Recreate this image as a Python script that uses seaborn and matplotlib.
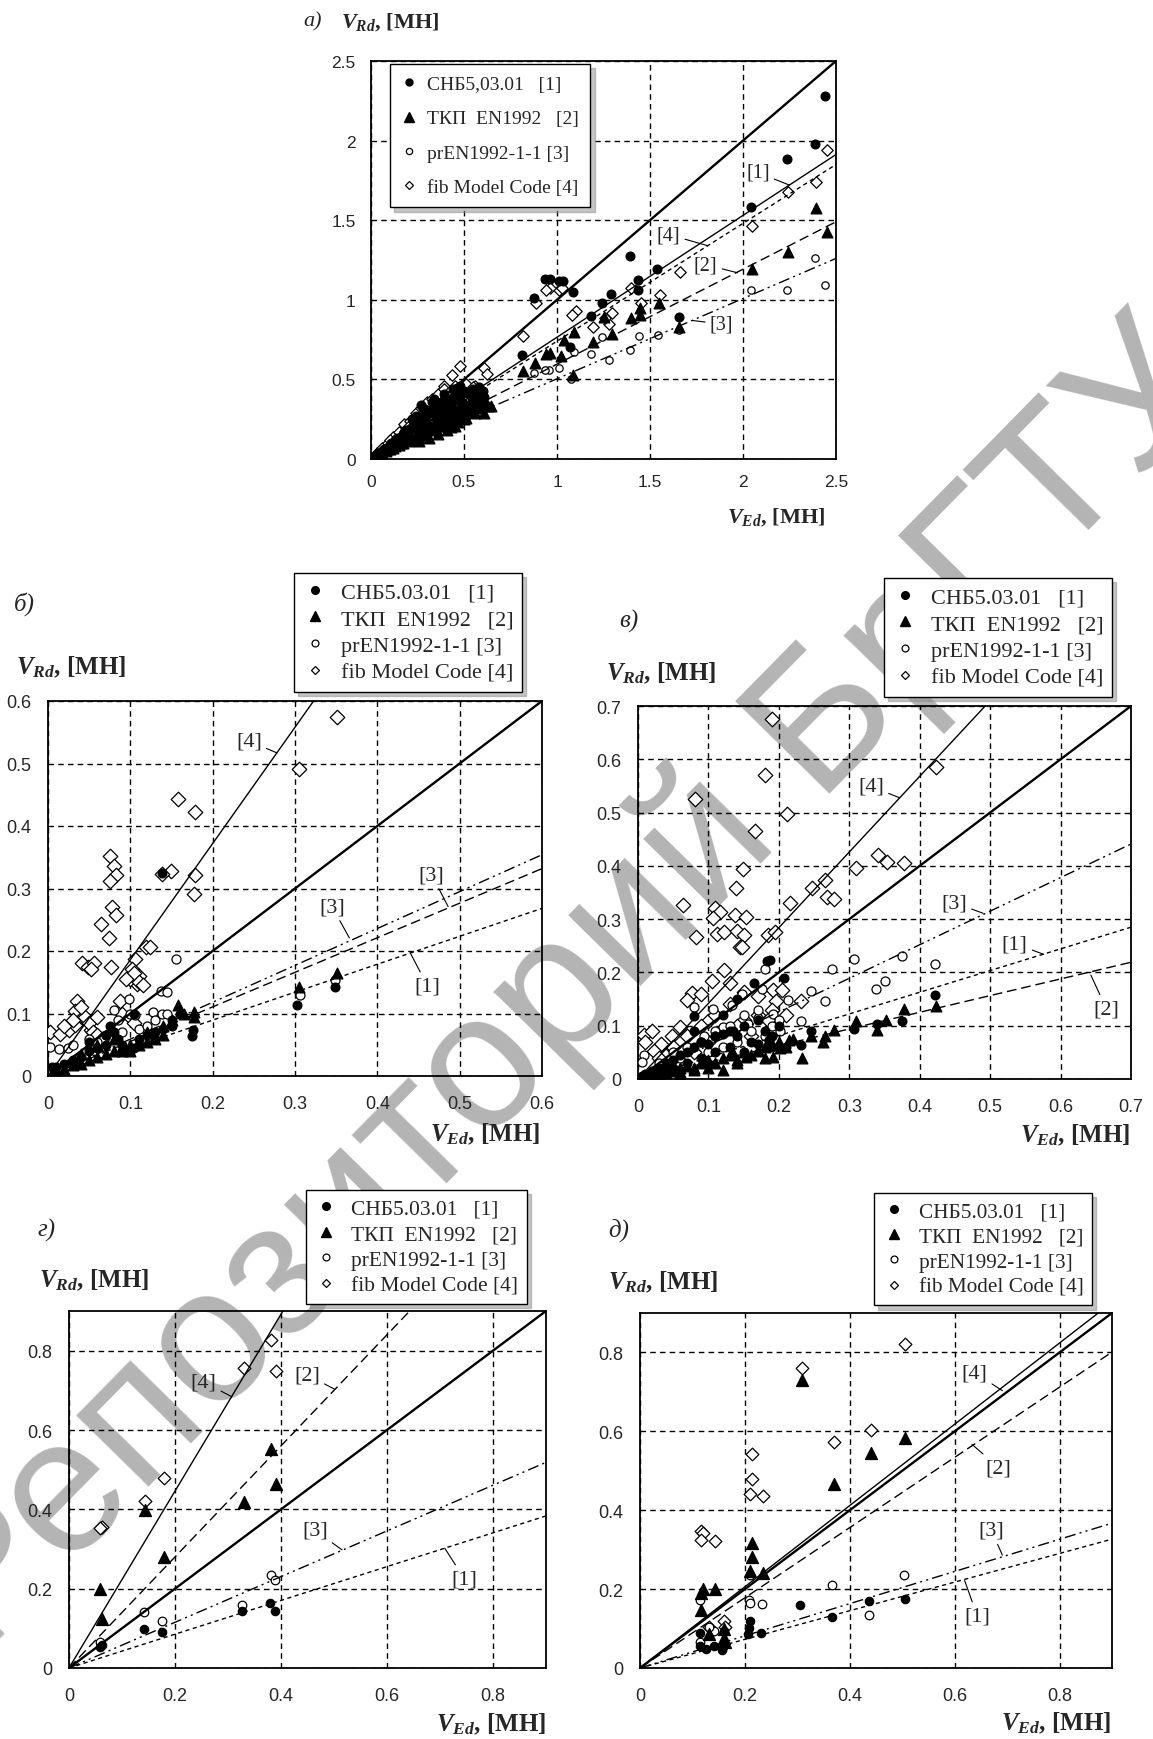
import numpy as np
import matplotlib
matplotlib.use("Agg")
import matplotlib.pyplot as plt
from matplotlib.lines import Line2D
import seaborn as sns

# ---------------- data ----------------
legend_labels = ["СНБ5.03.01   [1]", "ТКП  EN1992   [2]", "prEN1992-1-1 [3]", "fib Model Code [4]"]
legend_labels_a = ["СНБ5,03.01   [1]", "ТКП  EN1992   [2]", "prEN1992-1-1 [3]", "fib Model Code [4]"]

# panel а)
a_snb_x = [2.442, 2.385, 2.235, 2.042, 1.394, 1.538, 1.438, 1.438, 1.288, 1.240, 1.183, 1.654, 1.088, 0.933,
           0.962, 1.013, 1.033, 0.879, 0.813, 1.071, 0.46,
           0.02, 0.04, 0.06, 0.08, 0.10, 0.12, 0.14, 0.16, 0.18, 0.20, 0.22, 0.24, 0.26, 0.28, 0.30, 0.32,
           0.34, 0.36, 0.38, 0.40, 0.42, 0.44, 0.46, 0.48, 0.50, 0.52, 0.55, 0.58, 0.60, 0.15, 0.20, 0.25,
           0.30, 0.35, 0.40, 0.45, 0.50, 0.27, 0.33, 0.38,
           0.03, 0.07, 0.11, 0.13, 0.17, 0.19, 0.21, 0.23, 0.25, 0.29, 0.31, 0.33, 0.37, 0.41, 0.43, 0.47,
           0.49, 0.53, 0.56, 0.61, 0.24, 0.28, 0.22, 0.36, 0.42, 0.52, 0.55, 0.60, 0.26, 0.32, 0.44, 0.34,
           0.39, 0.44, 0.48]
a_snb_y = [2.281, 1.979, 1.887, 1.585, 1.272, 1.191, 1.123, 1.060, 1.038, 0.983, 0.900, 0.894, 1.047, 1.128,
           1.132, 1.117, 1.117, 1.011, 0.653, 0.702, 0.447,
           0.02, 0.04, 0.05, 0.07, 0.09, 0.10, 0.13, 0.14, 0.17, 0.18, 0.20, 0.22, 0.25, 0.27, 0.28, 0.30,
           0.31, 0.33, 0.34, 0.36, 0.37, 0.39, 0.40, 0.41, 0.43, 0.42, 0.44, 0.45, 0.43, 0.11, 0.15, 0.19,
           0.22, 0.26, 0.28, 0.31, 0.33, 0.34, 0.36, 0.29,
           0.03, 0.06, 0.10, 0.12, 0.16, 0.18, 0.19, 0.21, 0.24, 0.26, 0.29, 0.31, 0.35, 0.38, 0.35, 0.38,
           0.36, 0.40, 0.38, 0.39, 0.27, 0.32, 0.25, 0.28, 0.30, 0.34, 0.36, 0.34, 0.16, 0.20, 0.26, 0.38,
           0.41, 0.44, 0.46]
a_tkp_x = [2.452, 2.394, 2.24, 2.048, 1.548, 1.448, 1.448, 1.40, 1.25, 1.298, 1.092, 1.196, 1.035, 0.942,
           0.965, 1.023, 0.881, 0.817, 1.087, 1.654, 0.644,
           0.03, 0.05, 0.08, 0.10, 0.12, 0.15, 0.17, 0.20, 0.22, 0.25, 0.27, 0.30, 0.32, 0.35, 0.37, 0.40,
           0.42, 0.45, 0.47, 0.50, 0.52, 0.55, 0.58, 0.60, 0.63, 0.20, 0.25, 0.30, 0.35, 0.40, 0.45, 0.50,
           0.12, 0.18, 0.28, 0.38, 0.48,
           0.06, 0.09, 0.13, 0.16, 0.19, 0.23, 0.26, 0.29, 0.33, 0.36, 0.39, 0.43, 0.46, 0.49, 0.53, 0.56,
           0.59, 0.62, 0.61, 0.57, 0.54, 0.41, 0.36, 0.31, 0.26, 0.43, 0.47, 0.51, 0.44, 0.39]
a_tkp_y = [1.426, 1.579, 1.298, 1.191, 0.979, 0.947, 0.904, 0.883, 0.894, 0.787, 0.798, 0.734, 0.749, 0.660,
           0.664, 0.649, 0.606, 0.553, 0.528, 0.830, 0.330,
           0.02, 0.03, 0.05, 0.06, 0.07, 0.09, 0.10, 0.11, 0.12, 0.14, 0.15, 0.16, 0.18, 0.19, 0.21, 0.22,
           0.24, 0.21, 0.26, 0.28, 0.30, 0.33, 0.36, 0.38, 0.33, 0.14, 0.18, 0.20, 0.24, 0.27, 0.29, 0.25,
           0.09, 0.13, 0.22, 0.30, 0.34,
           0.04, 0.06, 0.08, 0.10, 0.12, 0.13, 0.15, 0.17, 0.19, 0.21, 0.23, 0.25, 0.27, 0.30, 0.31, 0.29,
           0.32, 0.35, 0.29, 0.40, 0.37, 0.18, 0.16, 0.13, 0.11, 0.20, 0.23, 0.26, 0.32, 0.29]
a_pr_x = [2.442, 2.385, 2.235, 2.042, 1.544, 1.442, 1.394, 1.279, 1.24, 1.183, 1.092, 1.013, 0.956, 0.933,
          0.879, 1.077, 1.654,
          0.05, 0.10, 0.15, 0.20, 0.25, 0.30, 0.35, 0.40, 0.45, 0.50, 0.55, 0.60, 0.18, 0.28, 0.38, 0.48, 0.58]
a_pr_y = [1.096, 1.26, 1.064, 1.06, 0.781, 0.77, 0.687, 0.621, 0.766, 0.66, 0.67, 0.574, 0.56, 0.557,
          0.543, 0.5, 0.809,
          0.04, 0.08, 0.11, 0.14, 0.17, 0.20, 0.23, 0.26, 0.28, 0.31, 0.34, 0.37, 0.12, 0.18, 0.24, 0.29, 0.32]
a_fib_x = [2.452, 2.394, 2.244, 2.048, 1.663, 1.554, 1.452, 1.40, 1.298, 1.279, 1.196, 1.26, 1.102, 1.081,
           1.013, 1.029, 0.962, 0.942, 0.885, 0.817, 0.606, 0.625, 0.481, 0.433, 0.394, 0.558,
           0.03, 0.06, 0.09, 0.12, 0.15, 0.18, 0.21, 0.24, 0.27, 0.30, 0.33, 0.36, 0.39, 0.42, 0.45, 0.48,
           0.51, 0.55, 0.10, 0.20, 0.30, 0.40, 0.50]
a_fib_y = [1.94, 1.74, 1.677, 1.464, 1.174, 1.032, 0.983, 1.074, 0.919, 0.847, 0.83, 0.883, 0.932, 0.904,
           1.064, 1.074, 1.074, 1.06, 0.983, 0.77, 0.574, 0.532, 0.585, 0.528, 0.457, 0.457,
           0.04, 0.07, 0.10, 0.14, 0.17, 0.22, 0.24, 0.29, 0.32, 0.36, 0.38, 0.41, 0.44, 0.42, 0.46, 0.44,
           0.47, 0.45, 0.12, 0.20, 0.30, 0.35, 0.40]
a_slopes = [1.0, 0.765, 0.74, 0.596, 0.504]

# panel б)
b_snb_x = [0.302, 0.349, 0.175, 0.176, 0.139,
           0.005, 0.01, 0.02, 0.03, 0.04, 0.05, 0.06, 0.07, 0.075, 0.08, 0.085, 0.09, 0.10, 0.105, 0.11,
           0.12, 0.13, 0.14, 0.15, 0.16, 0.07, 0.09, 0.11, 0.13, 0.15, 0.03, 0.05, 0.105]
b_snb_y = [0.114, 0.142, 0.064, 0.073, 0.325,
           0.015, 0.015, 0.02, 0.025, 0.03, 0.04, 0.045, 0.05, 0.08, 0.07, 0.06, 0.05, 0.04, 0.045, 0.06,
           0.065, 0.07, 0.075, 0.08, 0.10, 0.065, 0.04, 0.05, 0.06, 0.09, 0.02, 0.055, 0.10]
b_tkp_x = [0.305, 0.351, 0.158, 0.177, 0.177,
           0.01, 0.02, 0.03, 0.04, 0.05, 0.06, 0.07, 0.08, 0.09, 0.10, 0.11, 0.12, 0.13, 0.14, 0.15, 0.165,
           0.04, 0.06, 0.08, 0.10, 0.12, 0.14]
b_tkp_y = [0.142, 0.165, 0.114, 0.102, 0.094,
           0.01, 0.012, 0.018, 0.02, 0.025, 0.03, 0.035, 0.04, 0.04, 0.04, 0.05, 0.055, 0.06, 0.065, 0.09, 0.10,
           0.035, 0.05, 0.06, 0.05, 0.07, 0.08]
b_pr_x = [0.306, 0.349, 0.156, 0.137, 0.145, 0.080, 0.002, 0.013, 0.024, 0.128, 0.098, 0.106, 0.139,
          0.03, 0.05, 0.07, 0.09, 0.11, 0.13, 0.145, 0.10, 0.12, 0.06, 0.085]
b_pr_y = [0.130, 0.153, 0.188, 0.136, 0.135, 0.105, 0.046, 0.043, 0.045, 0.102, 0.123, 0.097, 0.100,
          0.05, 0.06, 0.065, 0.07, 0.075, 0.09, 0.10, 0.10, 0.08, 0.055, 0.09]
b_fib_x = [0.351, 0.305, 0.158, 0.179, 0.178, 0.177, 0.149, 0.139, 0.075, 0.080, 0.082, 0.075, 0.078, 0.082,
           0.064, 0.074, 0.077, 0.041, 0.048, 0.056, 0.052, 0.119, 0.124, 0.106, 0.102, 0.104, 0.108, 0.087,
           0.035, 0.033, 0.043, 0.002, 0.015, 0.026, 0.033, 0.052,
           0.045, 0.05, 0.055, 0.06, 0.04, 0.09, 0.10, 0.105, 0.03, 0.02, 0.11, 0.10, 0.105, 0.11, 0.115,
           0.095, 0.06, 0.065]
b_fib_y = [0.575, 0.492, 0.443, 0.422, 0.322, 0.292, 0.328, 0.323, 0.352, 0.336, 0.322, 0.312, 0.271, 0.257,
           0.243, 0.221, 0.175, 0.181, 0.174, 0.181, 0.172, 0.206, 0.206, 0.188, 0.171, 0.153, 0.147, 0.120,
           0.120, 0.104, 0.094, 0.070, 0.067, 0.073, 0.082, 0.073,
           0.095, 0.085, 0.07, 0.065, 0.11, 0.10, 0.095, 0.085, 0.09, 0.08, 0.16, 0.155, 0.165, 0.15, 0.145,
           0.155, 0.095, 0.06]
b_slopes = [1.0, 1.86, 0.59, 0.553, 0.447]

# panel в)
c_snb_x = [0.183, 0.188, 0.208, 0.422, 0.375, 0.307, 0.339, 0.232, 0.245, 0.165, 0.079, 0.110, 0.135, 0.186,
           0.005, 0.01, 0.02, 0.03, 0.04, 0.05, 0.06, 0.07, 0.08, 0.09, 0.10, 0.11, 0.12, 0.13, 0.14, 0.15,
           0.16, 0.17, 0.18, 0.19, 0.20, 0.21, 0.05, 0.07, 0.09, 0.11, 0.13, 0.15, 0.17, 0.19, 0.12, 0.14, 0.08]
c_snb_y = [0.222, 0.224, 0.189, 0.158, 0.109, 0.094, 0.104, 0.063, 0.090, 0.181, 0.118, 0.080, 0.090, 0.073,
           0.005, 0.01, 0.015, 0.02, 0.03, 0.035, 0.045, 0.05, 0.06, 0.07, 0.065, 0.08, 0.085, 0.09, 0.08, 0.10,
           0.07, 0.11, 0.09, 0.08, 0.10, 0.06, 0.02, 0.03, 0.04, 0.05, 0.06, 0.05, 0.065, 0.06, 0.12, 0.15, 0.09]
c_tkp_x = [0.423, 0.377, 0.352, 0.339, 0.309, 0.279, 0.265, 0.263, 0.246, 0.233, 0.214, 0.201, 0.191, 0.171,
           0.153, 0.135, 0.120, 0.099, 0.079, 0.059,
           0.01, 0.02, 0.03, 0.04, 0.05, 0.06, 0.07, 0.08, 0.09, 0.10, 0.11, 0.12, 0.13, 0.14, 0.15, 0.16,
           0.17, 0.18, 0.19, 0.20, 0.21, 0.22, 0.06, 0.10, 0.14, 0.18, 0.04]
c_tkp_y = [0.137, 0.132, 0.111, 0.092, 0.108, 0.092, 0.080, 0.069, 0.080, 0.040, 0.073, 0.059, 0.042, 0.052,
           0.042, 0.049, 0.017, 0.031, 0.017, 0.014,
           0.005, 0.008, 0.01, 0.012, 0.015, 0.02, 0.025, 0.02, 0.03, 0.035, 0.03, 0.04, 0.045, 0.035, 0.05,
           0.045, 0.055, 0.06, 0.065, 0.07, 0.06, 0.075, 0.01, 0.02, 0.03, 0.04, 0.02]
c_pr_x = [0.375, 0.422, 0.307, 0.276, 0.338, 0.350, 0.266, 0.245, 0.231, 0.213, 0.180, 0.176, 0.191, 0.201,
          0.148, 0.133, 0.107, 0.079, 0.008, 0.005, 0.071, 0.094, 0.120, 0.156, 0.171,
          0.03, 0.05, 0.07, 0.09, 0.11, 0.13, 0.15, 0.17, 0.19, 0.10, 0.14, 0.18, 0.06, 0.12, 0.16, 0.20]
c_pr_y = [0.231, 0.215, 0.226, 0.206, 0.168, 0.184, 0.146, 0.165, 0.108, 0.148, 0.207, 0.169, 0.122, 0.090,
          0.160, 0.139, 0.132, 0.136, 0.045, 0.031, 0.052, 0.080, 0.097, 0.104, 0.115,
          0.03, 0.05, 0.06, 0.07, 0.09, 0.10, 0.12, 0.13, 0.10, 0.05, 0.07, 0.08, 0.04, 0.06, 0.09, 0.11]
c_fib_x = [0.190, 0.181, 0.081, 0.211, 0.166, 0.423, 0.149, 0.139, 0.064, 0.110, 0.116, 0.138, 0.153, 0.107,
           0.082, 0.112, 0.122, 0.141, 0.151, 0.145, 0.148, 0.184, 0.195, 0.216, 0.247, 0.265, 0.268, 0.279,
           0.309, 0.341, 0.353, 0.377, 0.122, 0.105, 0.130, 0.076, 0.069, 0.089, 0.191, 0.204, 0.196, 0.232,
           0.171, 0.150, 0.008, 0.020, 0.010, 0.033, 0.048, 0.059, 0.099, 0.023, 0.038,
           0.03, 0.05, 0.07, 0.09, 0.11, 0.13, 0.15, 0.17, 0.19, 0.10, 0.12, 0.14, 0.06, 0.08, 0.04, 0.16,
           0.185, 0.21]
c_fib_y = [0.676, 0.570, 0.526, 0.497, 0.466, 0.585, 0.394, 0.359, 0.327, 0.320, 0.313, 0.308, 0.304, 0.302,
           0.266, 0.273, 0.276, 0.278, 0.271, 0.248, 0.247, 0.270, 0.276, 0.330, 0.359, 0.373, 0.341, 0.337,
           0.396, 0.420, 0.407, 0.405, 0.205, 0.184, 0.181, 0.162, 0.149, 0.160, 0.167, 0.167, 0.146, 0.146,
           0.156, 0.163, 0.083, 0.090, 0.069, 0.066, 0.080, 0.097, 0.108, 0.052, 0.045,
           0.04, 0.06, 0.08, 0.10, 0.12, 0.14, 0.11, 0.12, 0.13, 0.07, 0.09, 0.10, 0.03, 0.05, 0.02, 0.08,
           0.11, 0.12]
c_slopes = [1.0, 1.42, 0.63, 0.407, 0.313]

# panel г)
d_snb_x = [0.379, 0.389, 0.327, 0.142, 0.176, 0.058, 0.062]
d_snb_y = [0.164, 0.144, 0.144, 0.099, 0.090, 0.054, 0.059]
d_tkp_x = [0.382, 0.391, 0.330, 0.144, 0.179, 0.058, 0.062]
d_tkp_y = [0.552, 0.464, 0.419, 0.399, 0.281, 0.198, 0.124]
d_pr_x = [0.381, 0.389, 0.327, 0.142, 0.176, 0.058]
d_pr_y = [0.234, 0.223, 0.158, 0.140, 0.119, 0.065]
d_fib_x = [0.382, 0.330, 0.391, 0.179, 0.144, 0.062, 0.058]
d_fib_y = [0.828, 0.757, 0.748, 0.478, 0.421, 0.356, 0.353]
d_slopes = [1.0, 2.23, 1.40, 0.576, 0.426]

# panel д)
e_snb_x = [0.505, 0.437, 0.367, 0.305, 0.231, 0.210, 0.208, 0.206, 0.114, 0.114, 0.126, 0.141, 0.158, 0.157, 0.160]
e_snb_y = [0.174, 0.171, 0.129, 0.159, 0.089, 0.118, 0.102, 0.086, 0.089, 0.056, 0.047, 0.056, 0.053, 0.045, 0.093]
e_tkp_x = [0.309, 0.506, 0.440, 0.370, 0.213, 0.213, 0.210, 0.235, 0.121, 0.143, 0.117, 0.117, 0.131, 0.160,
           0.160, 0.162]
e_tkp_y = [0.729, 0.583, 0.546, 0.467, 0.316, 0.281, 0.245, 0.240, 0.200, 0.200, 0.191, 0.147, 0.086, 0.100,
           0.077, 0.065]
e_pr_x = [0.504, 0.367, 0.437, 0.232, 0.208, 0.210, 0.210, 0.114, 0.114, 0.141, 0.131]
e_pr_y = [0.236, 0.211, 0.134, 0.163, 0.172, 0.165, 0.236, 0.172, 0.065, 0.093, 0.104]
e_fib_x = [0.506, 0.309, 0.440, 0.370, 0.213, 0.213, 0.210, 0.235, 0.117, 0.121, 0.117, 0.143, 0.160, 0.131, 0.162]
e_fib_y = [0.821, 0.760, 0.603, 0.574, 0.542, 0.478, 0.442, 0.437, 0.348, 0.342, 0.325, 0.322, 0.118, 0.104, 0.104]
e_slopes = [1.0, 1.03, 0.89, 0.408, 0.363]

a_ticks = [0, 0.5, 1, 1.5, 2, 2.5]
b_ticks = [0, 0.1, 0.2, 0.3, 0.4, 0.5, 0.6]
c_ticks = [0, 0.1, 0.2, 0.3, 0.4, 0.5, 0.6, 0.7]
d_ticks = [0, 0.2, 0.4, 0.6, 0.8]

# ---------------- style ----------------
sns.set_style("white")
plt.rcParams["font.family"] = ["Liberation Serif", "DejaVu Serif"]
plt.rcParams["mathtext.fontset"] = "custom"
plt.rcParams["mathtext.it"] = "Liberation Serif:italic:bold"
plt.rcParams["mathtext.rm"] = "Liberation Serif:bold"
plt.rcParams["mathtext.bf"] = "Liberation Serif:bold"

W, H = 1153, 1740
fig = plt.figure(figsize=(W / 100, H / 100), dpi=100)


def fx(px):
    return px / W


def fy(py):
    return 1 - py / H


DASH = {"thick": "-", "solid": "-", "short": (0, (3, 2.5)), "long": (0, (7, 3.5)),
        "dashdot": (0, (8, 3, 1.5, 3, 1.5, 3))}

MARK = [("o", "black"), ("^", "black"), ("o", "white"), ("D", "white")]


def draw_panel(box, series, sizes, slopes, styles, lim, ticks, tfs, tpad, notes, nfs):
    l, t, r, b = box
    ax = fig.add_axes([fx(l), fy(b), (r - l) / W, (b - t) / H])
    ax.set_facecolor("none")
    ax.set_axisbelow(True)
    ax.grid(True, color="black", lw=1.0, ls=(0, (4, 3)))
    # fib first, black symbols on top
    for i in [3, 2, 1, 0]:
        xs, ys = series[i]
        m, c = MARK[i]
        sns.scatterplot(x=xs, y=ys, ax=ax, marker=m, s=sizes[i], color=c,
                        edgecolor="black", linewidth=0.9, zorder=3, legend=False)
    xx = np.array([0, lim])
    for k, st in zip(slopes, styles):
        ax.plot(xx, k * xx, color="black", ls=DASH[st], lw=1.7 if st == "thick" else 1.0,
                zorder=4, solid_capstyle="butt")
    for txt, (tx, ty), (ex, ey) in notes:
        ax.annotate(txt, xy=(ex, ey), xytext=(tx, ty), fontsize=nfs, ha="center", va="center",
                    arrowprops=dict(arrowstyle="-", lw=0.8, color="black", shrinkA=1, shrinkB=0))
    ax.set_xlim(0, lim)
    ax.set_ylim(0, lim)
    ax.set_xticks(ticks)
    ax.set_yticks(ticks)
    ax.set_xticklabels([f"{v:g}" for v in ticks], fontsize=tfs, family="Liberation Sans")
    ax.set_yticklabels([f"{v:g}" for v in ticks], fontsize=tfs, family="Liberation Sans")
    ax.tick_params(axis="x", length=0, pad=tpad[0])
    ax.tick_params(axis="y", length=0, pad=tpad[1])
    for s in ax.spines.values():
        s.set_color("black")
        s.set_linewidth(1.3)
        s.set_visible(True)
    return ax


def add_legend(ax, labels, corner, fs, ms, lsp, bpad, hl, htp):
    handles = [
        Line2D([], [], ls="none", marker="o", ms=ms, mfc="black", mec="black"),
        Line2D([], [], ls="none", marker="^", ms=ms * 1.3, mfc="black", mec="black"),
        Line2D([], [], ls="none", marker="o", ms=ms * 0.9, mfc="white", mec="black", mew=0.9),
        Line2D([], [], ls="none", marker="D", ms=ms * 0.8, mfc="white", mec="black", mew=0.9),
    ]
    leg = ax.legend(handles, labels, loc="upper left", bbox_to_anchor=(fx(corner[0]), fy(corner[1])),
                    bbox_transform=fig.transFigure, borderaxespad=0, fontsize=fs, frameon=True,
                    fancybox=False, edgecolor="black", framealpha=1, labelspacing=lsp, borderpad=bpad,
                    handlelength=hl, handletextpad=htp,
                    shadow={"color": "0.55", "ox": 3, "oy": -3})
    leg.get_frame().set_linewidth(1.0)
    leg.set_zorder(6)


def add_labels(letter, lpos, ypos, xright, xy, fs):
    fig.text(fx(lpos[0]), fy(lpos[1]), letter, style="italic", fontsize=fs, ha="left", va="center")
    fig.text(fx(ypos[0]), fy(ypos[1]), r"$V_{Rd}$, [МН]", fontsize=fs, fontweight="bold",
             ha="left", va="center")
    fig.text(fx(xright), fy(xy), r"$V_{Ed}$, [МН]", fontsize=fs, fontweight="bold",
             ha="right", va="center")


# ---- а)
ax_a = draw_panel((371, 62, 836, 460),
                  [(a_snb_x, a_snb_y), (a_tkp_x, a_tkp_y), (a_pr_x, a_pr_y), (a_fib_x, a_fib_y)],
                  (40, 60, 28, 34), a_slopes, ["thick", "solid", "short", "long", "dashdot"],
                  2.5, a_ticks, 12.5, (11, 11),
                  [("[1]", (2.08, 1.80), (2.25, 1.72)), ("[4]", (1.60, 1.41), (1.81, 1.34)),
                   ("[2]", (1.80, 1.22), (1.97, 1.17)), ("[3]", (1.885, 0.847), (1.73, 0.87))], 14.5)
add_legend(ax_a, legend_labels_a, (390, 65), 14, 5, 0.85, 0.6, 0.8, 0.5)
add_labels("а)", (303, 22), (341, 22), 825, 517, 16)

# ---- б)
ax_b = draw_panel((48, 702, 542, 1077),
                  [(b_snb_x, b_snb_y), (b_tkp_x, b_tkp_y), (b_pr_x, b_pr_y), (b_fib_x, b_fib_y)],
                  (40, 60, 42, 55), b_slopes, ["thick", "solid", "dashdot", "long", "short"],
                  0.6, b_ticks, 13, (14, 12),
                  [("[4]", (0.244, 0.536), (0.278, 0.517)), ("[3]", (0.466, 0.322), (0.486, 0.271)),
                   ("[3]", (0.345, 0.271), (0.366, 0.221)), ("[1]", (0.461, 0.144), (0.44, 0.197))], 16)
add_legend(ax_b, legend_labels, (294, 574), 16, 5.5, 0.28, 0.4, 1.1, 0.6)
add_labels("б)", (14, 604), (16, 667), 540, 1134, 18)

# ---- в)
ax_c = draw_panel((638, 707, 1131, 1080),
                  [(c_snb_x, c_snb_y), (c_tkp_x, c_tkp_y), (c_pr_x, c_pr_y), (c_fib_x, c_fib_y)],
                  (40, 60, 42, 55), c_slopes, ["thick", "solid", "dashdot", "short", "long"],
                  0.7, c_ticks, 13, (14, 12),
                  [("[4]", (0.331, 0.549), (0.371, 0.528)), ("[3]", (0.449, 0.331), (0.490, 0.311)),
                   ("[1]", (0.535, 0.254), (0.576, 0.234)), ("[2]", (0.665, 0.132), (0.643, 0.195))], 16)
add_legend(ax_c, legend_labels, (884, 579), 16, 5.5, 0.28, 0.4, 1.1, 0.6)
add_labels("в)", (619, 621), (606, 673), 1130, 1135, 18)

# ---- г)
ax_d = draw_panel((69, 1312, 546, 1669),
                  [(d_snb_x, d_snb_y), (d_tkp_x, d_tkp_y), (d_pr_x, d_pr_y), (d_fib_x, d_fib_y)],
                  (36, 75, 38, 42), d_slopes, ["thick", "solid", "long", "dashdot", "short"],
                  0.9, d_ticks, 13, (14, 12),
                  [("[4]", (0.254, 0.721), (0.307, 0.684)), ("[2]", (0.449, 0.739), (0.501, 0.703)),
                   ("[3]", (0.464, 0.347), (0.515, 0.298)), ("[1]", (0.746, 0.225), (0.709, 0.302))], 16)
add_legend(ax_d, legend_labels, (306, 1191), 15.5, 5.5, 0.25, 0.4, 1.1, 0.6)
add_labels("г)", (37, 1230), (39, 1280), 546, 1724, 18)

# ---- д)
ax_e = draw_panel((640, 1314, 1112, 1669),
                  [(e_snb_x, e_snb_y), (e_tkp_x, e_tkp_y), (e_pr_x, e_pr_y), (e_fib_x, e_fib_y)],
                  (36, 75, 38, 42), e_slopes, ["thick", "solid", "long", "dashdot", "short"],
                  0.9, d_ticks, 13, (14, 12),
                  [("[4]", (0.638, 0.749), (0.691, 0.703)), ("[2]", (0.684, 0.508), (0.633, 0.567)),
                   ("[3]", (0.670, 0.349), (0.691, 0.286)), ("[1]", (0.643, 0.132), (0.619, 0.222))], 16)
add_legend(ax_e, legend_labels, (874, 1194), 15.3, 5.5, 0.25, 0.4, 1.1, 0.6)
add_labels("д)", (608, 1230), (608, 1282), 1111, 1723, 18)

# repository watermark, light gray behind the plots
fig.text(fx(565), fy(990), "Репозиторий БрГТУ", rotation=45.5, rotation_mode="anchor",
         ha="center", va="center", fontsize=138, family=["Liberation Sans"],
         color="#b4b4b4", zorder=-1)

fig.savefig("out.png", dpi=100)
